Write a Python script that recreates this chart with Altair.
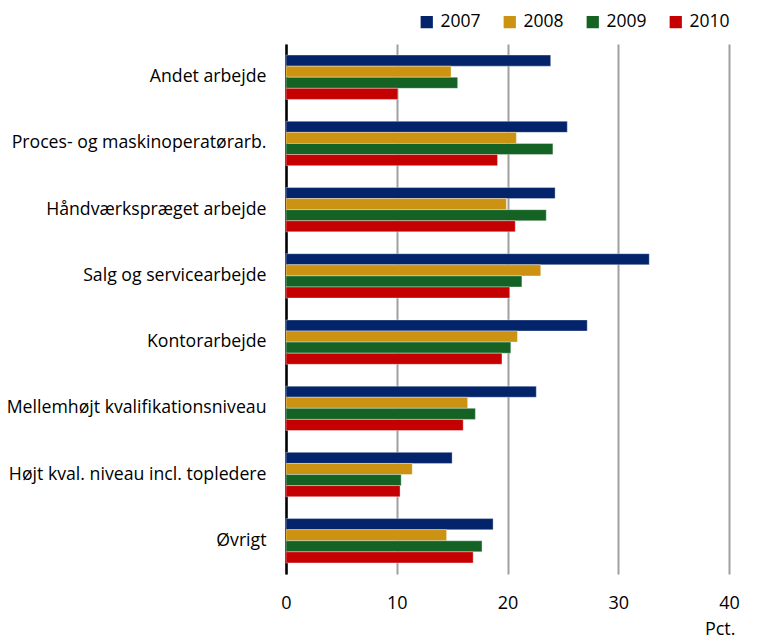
import altair as alt
import pandas as pd

categories = [
    "Andet arbejde",
    "Proces- og maskinoperatørarb.",
    "Håndværkspræget arbejde",
    "Salg og servicearbejde",
    "Kontorarbejde",
    "Mellemhøjt kvalifikationsniveau",
    "Højt kval. niveau incl. topledere",
    "Øvrigt",
]
years = ["2007", "2008", "2009", "2010"]
v2007 = [23.9, 25.4, 24.3, 32.8, 27.2, 22.6, 15.0, 18.7]
v2008 = [14.9, 20.8, 19.9, 23.0, 20.9, 16.4, 11.4, 14.5]
v2009 = [15.5, 24.1, 23.5, 21.3, 20.3, 17.1, 10.4, 17.7]
v2010 = [10.1, 19.1, 20.7, 20.2, 19.5, 16.0, 10.3, 16.9]
colors = ["#03246A", "#CC9211", "#146325", "#C40000"]

rows = []
for y, vals in zip(years, [v2007, v2008, v2009, v2010]):
    for c, v in zip(categories, vals):
        rows.append({"kategori": c, "år": y, "pct": v})
df = pd.DataFrame(rows)

FONT = "Open Sans"

chart = alt.Chart(df).mark_bar(stroke="white", strokeWidth=0.6, strokeOpacity=0.6).encode(
    x=alt.X("pct:Q", scale=alt.Scale(domain=[0, 40], nice=False),
            axis=alt.Axis(values=[0, 10, 20, 30, 40], grid=True, gridColor="#A0A0A0",
                          gridWidth=2, domain=False, ticks=False, labelPadding=20,
                          labelFlush=False,
                          labelFontSize=18, labelColor="black", labelFont=FONT,
                          title="Pct.", titleFont=FONT, titleFontSize=18,
                          titleFontWeight="normal", titleColor="black",
                          titleAnchor="end", titleAlign="right", titleX=449,
                          titleY=60, titleBaseline="alphabetic")),
    y=alt.Y("kategori:N", sort=categories,
            scale=alt.Scale(paddingInner=0.33, paddingOuter=0.167),
            axis=alt.Axis(title=None, domain=True, domainColor="black", domainWidth=2.5,
                          ticks=False, labelPadding=20, labelFontSize=17.7,
                          labelColor="black", labelFont=FONT, labelLimit=300)),
    yOffset=alt.YOffset("år:N", sort=years),
    color=alt.Color("år:N", sort=years,
                    scale=alt.Scale(domain=years, range=colors),
                    legend=alt.Legend(title=None, orient="none", direction="horizontal",
                                      legendX=132, legendY=-31, symbolType="square",
                                      symbolSize=150, symbolStrokeWidth=0,
                                      labelFontSize=17.5, labelFont=FONT,
                                      labelColor="black", columnPadding=20,
                                      labelOffset=5)),
).properties(
    width=443, height=530,
    autosize=alt.AutoSizeParams(type="none"),
    padding={"left": 278, "top": 36, "right": 22, "bottom": 64},
).configure_view(stroke=None).configure_axisX(gridDash=[])

chart.save("out.html", embed_options={"renderer": "svg", "actions": False})
